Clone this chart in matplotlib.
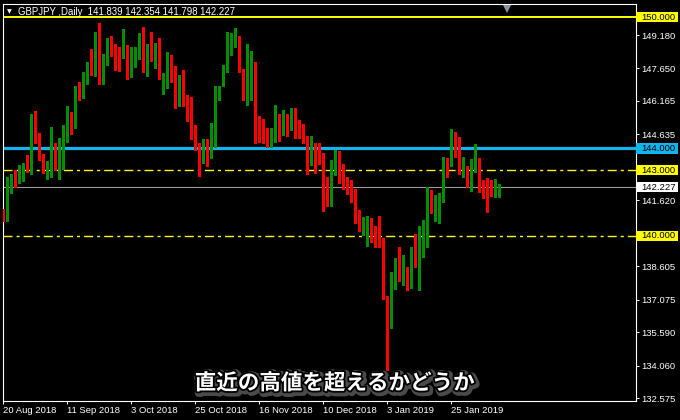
import matplotlib
matplotlib.use('Agg')
import matplotlib.pyplot as plt
import matplotlib.patheffects as pe
from matplotlib.patches import Rectangle
from matplotlib.transforms import blended_transform_factory
import numpy as np

# ---------------- data ----------------
symbol = "GBPJPY"
timeframe = "Daily"

opens = [140.954, 140.771, 142.110, 142.690, 142.494, 142.841, 143.207, 143.070, 145.433, 144.290,
         143.376, 142.841, 143.193, 143.801, 143.115, 143.435, 144.656, 145.419, 145.113, 146.667,
         146.392, 147.000, 147.718, 147.503, 149.180, 147.019, 147.869, 148.906, 148.358, 148.221,
         148.234, 148.541, 147.412, 148.143, 148.189, 149.317, 148.097, 148.449, 148.097, 148.266,
         146.772, 146.955, 147.901, 147.718, 146.027, 147.078, 146.164, 145.935, 144.564, 144.062,
         143.422, 143.742, 143.604, 144.107, 146.498, 147.201, 147.535, 148.495, 148.874, 148.998,
         147.215, 146.210, 147.503, 147.503, 145.067, 144.793, 144.610, 144.153, 144.381, 145.433,
         144.747, 145.433, 144.944, 145.753, 145.067, 144.884, 144.185, 143.344, 144.153, 143.956,
         143.161, 142.325, 141.456, 142.965, 143.742, 142.476, 142.370, 142.142, 141.776, 140.771,
         140.222, 139.569, 140.634, 140.314, 140.040, 139.720, 137.115, 135.926, 137.983, 138.897,
         138.211, 138.349, 138.134, 139.537, 139.002, 139.733, 140.451, 141.913, 141.214, 141.333,
         141.562, 143.271, 143.207, 144.427, 143.879, 142.750, 142.736, 142.599, 142.933, 143.239,
         142.370, 142.201, 142.220, 141.790, 141.839]

highs = [141.228, 142.704, 142.828, 143.010, 143.225, 143.317, 143.696, 145.570, 145.707, 144.701,
         143.742, 143.422, 144.976, 144.231, 144.473, 145.067, 145.935, 145.661, 146.849, 147.032,
         147.489, 147.946, 148.541, 149.317, 149.729, 148.312, 149.030, 149.135, 148.769, 148.646,
         149.455, 148.737, 148.618, 148.618, 149.258, 149.560, 148.783, 149.317, 148.815, 149.043,
         147.444, 148.403, 148.266, 147.764, 147.352, 147.581, 146.438, 146.347, 145.067, 144.244,
         144.427, 144.427, 145.158, 146.849, 146.849, 147.796, 149.304, 149.258, 149.500, 149.135,
         147.613, 148.783, 148.463, 147.946, 145.478, 145.341, 144.930, 144.930, 145.981, 145.570,
         145.753, 145.570, 145.844, 145.844, 145.296, 145.099, 144.578, 144.578, 144.231, 144.231,
         143.774, 142.704, 143.467, 143.924, 143.879, 143.285, 142.704, 142.553, 142.142, 141.182,
         140.862, 140.908, 140.817, 140.451, 140.908, 139.902, 137.252, 138.349, 138.988, 139.491,
         139.125, 138.591, 139.505, 140.085, 140.451, 140.725, 142.247, 142.096, 141.868, 141.945,
         143.618, 143.545, 144.884, 144.733, 144.505, 143.591, 143.207, 143.513, 144.199, 143.545,
         142.553, 142.631, 142.553, 142.585, 142.354]

lows = [140.679, 140.679, 141.973, 142.247, 142.403, 142.508, 142.933, 142.814, 144.231, 143.467,
        142.859, 142.585, 142.677, 143.010, 142.613, 143.070, 144.304, 144.669, 144.944, 146.210,
        146.315, 146.927, 147.339, 147.306, 146.941, 146.927, 147.796, 148.234, 147.581, 147.535,
        148.115, 147.169, 147.275, 147.732, 148.070, 147.503, 147.320, 148.006, 147.686, 147.169,
        146.484, 146.744, 147.032, 145.830, 145.935, 145.949, 145.264, 144.427, 143.924, 142.750,
        143.330, 143.207, 143.580, 144.080, 146.210, 146.849, 147.476, 148.266, 148.646, 147.503,
        146.190, 145.995, 146.210, 144.258, 144.276, 144.258, 144.075, 144.048, 144.304, 144.349,
        144.610, 144.564, 144.838, 144.487, 144.487, 144.231, 142.814, 143.239, 142.859, 143.271,
        141.136, 141.379, 141.365, 142.782, 142.403, 142.142, 141.913, 141.562, 140.574, 140.236,
        140.040, 139.537, 139.733, 139.505, 139.505, 137.115, 133.870, 135.775, 137.572, 137.937,
        137.754, 137.526, 137.617, 138.591, 137.526, 139.020, 139.505, 141.059, 140.693, 140.602,
        141.540, 142.704, 143.180, 143.591, 142.814, 142.704, 142.247, 142.064, 142.910, 142.019,
        141.744, 141.104, 141.836, 141.763, 141.798]

closes = [140.771, 142.247, 142.690, 142.430, 142.933, 143.207, 143.056, 145.433, 144.290, 143.892,
          143.010, 143.239, 143.801, 143.115, 143.317, 144.688, 145.419, 144.989, 146.667, 146.315,
          147.032, 147.718, 147.503, 149.226, 147.183, 147.914, 148.860, 148.280, 148.161, 148.083,
          148.495, 147.366, 148.175, 148.221, 149.043, 148.097, 148.449, 148.070, 148.312, 147.457,
          146.987, 147.901, 147.686, 145.981, 146.987, 146.132, 145.949, 144.519, 144.062, 143.435,
          143.742, 143.604, 144.153, 146.530, 146.726, 147.626, 148.527, 148.906, 148.998, 147.535,
          146.210, 147.581, 147.581, 145.067, 144.656, 144.578, 144.153, 144.427, 145.387, 144.532,
          145.478, 144.930, 145.753, 145.035, 144.578, 144.578, 143.344, 144.153, 143.924, 143.390,
          142.293, 141.456, 143.010, 143.664, 142.658, 142.279, 142.142, 141.776, 140.771, 140.373,
          140.359, 140.679, 140.268, 139.962, 139.843, 137.160, 135.926, 138.029, 138.806, 138.211,
          138.362, 138.166, 139.308, 139.048, 139.720, 140.497, 141.868, 141.214, 141.365, 141.593,
          143.239, 143.207, 144.505, 143.847, 142.887, 143.161, 142.704, 143.134, 143.239, 142.293,
          142.142, 142.156, 141.881, 141.913, 142.227]

date_labels = ["20 Aug 2018", "11 Sep 2018", "3 Oct 2018", "25 Oct 2018",
               "16 Nov 2018", "10 Dec 2018", "3 Jan 2019", "25 Jan 2019"]
date_label_bars = [0, 16, 32, 48, 64, 80, 96, 112]

price_ticks = [149.180, 147.650, 146.165, 144.635, 141.620, 138.605,
               137.075, 135.590, 134.060, 132.575]

level_prices = [150.000, 144.000, 143.000, 140.000]
level_colors = ['#FFFF00', '#12B4EE', '#FFFF00', '#FFFF00']
level_styles = ['solid', 'solid', 'dashdot', 'dashdot']
level_widths = [1.4, 2.3, 1.0, 1.0]

caption = "直近の高値を超えるかどうか"

# ---------------- figure ----------------
W, H = 680, 420
fig = plt.figure(figsize=(W / 100, H / 100), dpi=100, facecolor='black')
ax_l, ax_r, ax_t, ax_b = 3, 636, 3.5, 401
ax = fig.add_axes([ax_l / W, 1 - ax_b / H, (ax_r - ax_l) / W, (ax_b - ax_t) / H])
ax.set_facecolor('black')

ax.set_xlim(-0.1, 158.15)
ax.set_ylim(132.453, 150.62)

GREEN = '#008F00'
RED = '#FF0000'
o = np.array(opens); c = np.array(closes)
hi = np.array(highs); lo = np.array(lows)
x = np.arange(len(o))
up = c >= o
cols = np.where(up, GREEN, RED)

ax.vlines(x, lo, hi, colors=cols, linewidth=0.75, antialiased=False, zorder=3)
body_bottom = np.minimum(o, c)
body_h = np.maximum(np.abs(c - o), 0.045)
ax.bar(x, body_h, bottom=body_bottom, width=0.66, color=cols, linewidth=0,
       antialiased=False, zorder=4)

# horizontal levels
px_per_unit = (ax_b - ax_t) / (150.62 - 132.453)
dashdot = (0, (6.5, 2.9, 2.2, 2.9))
for p, col, st, lw in zip(level_prices, level_colors, level_styles, level_widths):
    ls = dashdot if st == 'dashdot' else '-'
    ax.axhline(p, color=col, linewidth=lw, linestyle=ls, zorder=2)

current = closes[-1]
ax.axhline(current, color='#9A9A9A', linewidth=0.8, zorder=1.5)

# right-side price label boxes
trans = blended_transform_factory(ax.transAxes, ax.transData)
box_w = 42 / (ax_r - ax_l)
box_h = 10.5 / px_per_unit
labels = list(zip(level_prices, level_colors)) + [(current, '#FFFFFF')]
for p, col in labels:
    ax.add_patch(Rectangle((1.0, p - box_h / 2), box_w, box_h, transform=trans,
                           facecolor=col, edgecolor='none', clip_on=False, zorder=10))
    ax.text(1.0 + 5.0 / (ax_r - ax_l), p, f"{p:.3f}", transform=trans, ha='left',
            va='center', color='black', fontsize=6.8, family='Liberation Sans',
            clip_on=False, zorder=11)

# axes styling
for s in ax.spines.values():
    s.set_color('white')
    s.set_linewidth(0.8)
ax.yaxis.tick_right()
ax.set_yticks(price_ticks)
ax.set_yticklabels([f"{v:.3f}" for v in price_ticks])
ax.tick_params(axis='y', direction='out', length=2.3, width=0.7, colors='white',
               labelsize=6.8, pad=1.5)
ax.set_xticks(date_label_bars)
ax.set_xticklabels(date_labels, ha='left')
ax.tick_params(axis='x', direction='out', length=2.3, width=0.7, colors='white',
               labelsize=6.8, pad=1.6)
for lab in ax.get_xticklabels() + ax.get_yticklabels():
    lab.set_family('Liberation Sans')

# header
fig.text(7 / W, 1 - 12 / H, "▼", color='white', fontsize=4.5, family='DejaVu Sans',
         ha='left', va='center')
hdr = f"{symbol} ,{timeframe}  {opens[-1]:.3f} {highs[-1]:.3f} {lows[-1]:.3f} {closes[-1]:.3f}"
fig.text(18 / W, 1 - 11.7 / H, hdr, color='white', fontsize=6.9, family='Liberation Sans',
         ha='left', va='center', zorder=20)

# chart-shift marker
ax.plot([0.796], [0.987], marker='v', markersize=5.5, color='#8C96A0',
        transform=ax.transAxes, clip_on=False, zorder=12, markeredgewidth=0)

# caption
fig.text(334.5 / W, 1 - 383 / H, caption, ha='center', va='center', color='white',
         fontsize=15.5, fontweight='bold', family=['Noto Sans CJK JP', 'DejaVu Sans'],
         zorder=30,
         path_effects=[pe.Stroke(linewidth=5.5, foreground='#4a4a4a', offset=(1.2, -1.2)),
                       pe.Stroke(linewidth=2.6, foreground='black'),
                       pe.Normal()])

fig.savefig('out.png', dpi=100, facecolor='black')
